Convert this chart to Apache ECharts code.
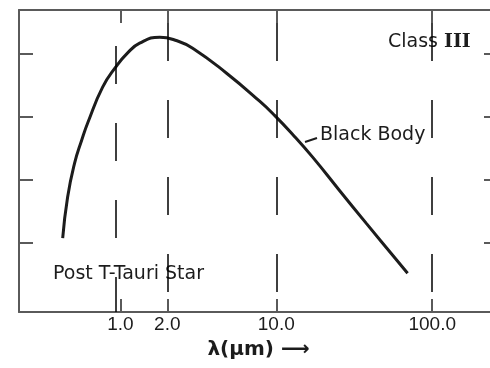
<!DOCTYPE html>
<html>
<head>
<meta charset="utf-8">
<script src="https://cdn.jsdelivr.net/npm/echarts@6/dist/echarts.min.js"></script>
<style>
  html, body { margin: 0; padding: 0; background: #fff; }
  #main { width: 490px; height: 368px; }
</style>
</head>
<body>
<div id="main"></div>
<script>
// Black body curve (lambda in um, flux in relative decades)
const wavelength = [0.427, 0.459, 0.509, 0.565, 0.621, 0.770, 0.933, 1.11, 1.33, 1.79, 2.31,
  2.91, 4.80, 7.82, 9.75, 12.7, 17.1, 25.5, 37.9, 58.2, 69.5];
const flux = [1.16e-3, 5.24e-3, 0.0183, 0.0425, 0.0830, 0.298, 0.621, 1.04, 1.50, 1.87, 1.64,
  1.25, 0.498, 0.178, 0.106, 0.0530, 0.0228, 6.65e-3, 1.98e-3, 5.47e-4, 3.21e-4];

const xTicks = [1, 2, 10, 100];
const xTickLabels = ['1.0', '2.0', '10.0', '100.0'];
const yTicks = [1e-3, 1e-2, 1e-1, 1];
// dashed guide lines (the 1.0 one sits a little left of its tick in the scan)
const guideLines = [0.94, 2, 10, 100];

const chart = echarts.init(document.getElementById('main'));

const frameColor = '#5a5a5a';
const ink = '#1c1c1c';

function xLabel(v) {
  let best = 0;
  xTicks.forEach((t, i) => {
    if (Math.abs(Math.log10(t) - Math.log10(v)) < Math.abs(Math.log10(xTicks[best]) - Math.log10(v))) best = i;
  });
  return xTickLabels[best];
}

const xBase = {
  type: 'log',
  min: 0.224,
  max: 264,
  axisLine: { lineStyle: { color: frameColor, width: 2 } },
  axisTick: { inside: true, length: 13, customValues: xTicks, lineStyle: { color: frameColor, width: 2 } },
  splitLine: { show: false },
  minorTick: { show: false }
};
const yBase = {
  type: 'log',
  min: 7.71e-5,
  max: 5.08,
  axisLine: { lineStyle: { color: frameColor, width: 2 } },
  axisTick: { inside: true, length: 14, customValues: yTicks, lineStyle: { color: frameColor, width: 2 } },
  axisLabel: { show: false },
  splitLine: { show: false }
};

const option = {
  animation: false,
  // the right edge of the frame runs just past the cropped picture
  grid: { left: 19, top: 10, width: 479, bottom: 56, outerBoundsMode: 'none', containLabel: false },
  xAxis: [
    Object.assign({}, xBase, {
      position: 'bottom',
      axisLabel: {
        customValues: xTicks,
        formatter: xLabel,
        margin: 3,
        color: ink,
        fontSize: 19,
        fontFamily: 'Liberation Sans'
      },
      name: 'λ(μm) ⟶',
      nameLocation: 'middle',
      nameGap: 28,
      nameTextStyle: { color: ink, fontSize: 20, fontWeight: 'bold', fontFamily: 'DejaVu Sans' }
    }),
    Object.assign({}, xBase, { position: 'top', axisLabel: { show: false } })
  ],
  yAxis: [
    Object.assign({}, yBase, { position: 'left' }),
    Object.assign({}, yBase, { position: 'right' })
  ],
  series: [
    {
      name: 'Black Body',
      type: 'line',
      data: wavelength.map((w, i) => [w, flux[i]]),
      showSymbol: false,
      smooth: 0.5,
      lineStyle: { color: ink, width: 3 },
      markLine: {
        silent: true,
        symbol: 'none',
        label: { show: false },
        data: guideLines.map((v, i) => ({
          xAxis: v,
          lineStyle: {
            color: '#000',
            width: 1.5,
            type: [38, 39],
            dashOffset: i === 0 ? 3 : 57
          }
        }))
      }
    }
  ],
  graphic: [
    {
      type: 'text', left: 388, top: 33,
      style: {
        text: '{a|Class }{b|III}',
        rich: {
          a: { fontSize: 19, fontFamily: 'DejaVu Sans', fill: ink },
          b: { fontSize: 19, fontFamily: 'DejaVu Serif', fontWeight: 'bold', fill: ink }
        }
      }
    },
    {
      type: 'line',
      shape: { x1: 305, y1: 142, x2: 317, y2: 138 },
      style: { stroke: ink, lineWidth: 2 }
    },
    {
      type: 'text', left: 320, top: 126,
      style: { text: 'Black Body', fontSize: 19, fontFamily: 'DejaVu Sans', fill: ink }
    },
    {
      type: 'text', left: 53, top: 265,
      style: { text: 'Post T-Tauri Star', fontSize: 19, fontFamily: 'DejaVu Sans', fill: ink }
    }
  ]
};

chart.setOption(option);
</script>
</body>
</html>
